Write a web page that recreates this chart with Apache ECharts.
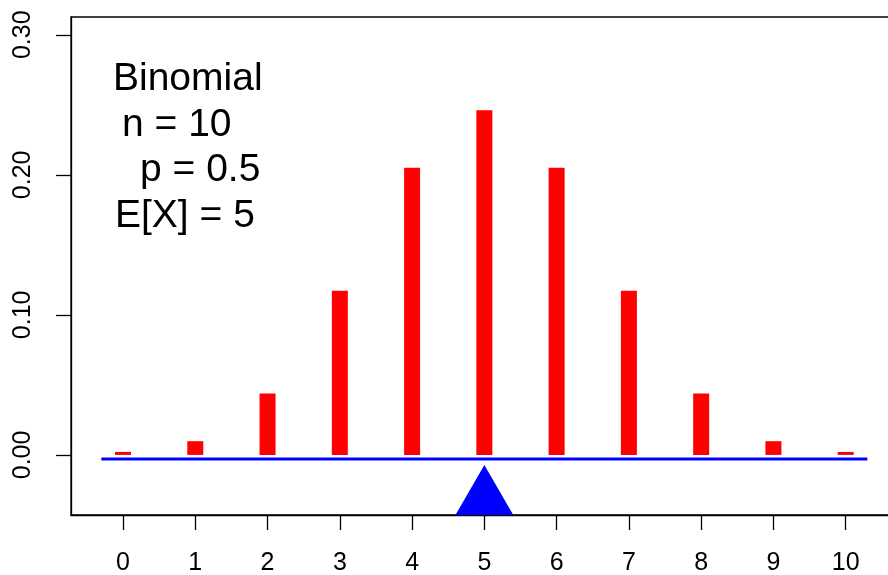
<!DOCTYPE html>
<html>
<head>
<meta charset="utf-8">
<script src="https://cdn.jsdelivr.net/npm/echarts@6/dist/echarts.min.js"></script>
<style>
html, body { margin: 0; padding: 0; background: #fff; }
#chart { width: 888px; height: 575px; }
</style>
</head>
<body>
<div id="chart"></div>
<script>
// binomial n = 10, p = 0.5
var successes = [0, 1, 2, 3, 4, 5, 6, 7, 8, 9, 10];
var probs = [0.001, 0.0098, 0.0439, 0.1172, 0.2051, 0.2461, 0.2051, 0.1172, 0.0439, 0.0098, 0.001];
var xTicks = [0, 1, 2, 3, 4, 5, 6, 7, 8, 9, 10];
var yTicks = [0, 0.1, 0.2, 0.3];
// balance beam and fulcrum under the mean
var beamX = [-0.3, 10.3];
var beamY = [-0.0029, -0.0029];
var fulcrumX = [4.6, 5, 5.4];
var fulcrumY = [-0.0429, -0.0072, -0.0429];
var notes = ['Binomial', 'n = 10', 'p = 0.5', 'E[X] = 5'];

var font = '"Liberation Sans", Arial, Helvetica, sans-serif';
var noteLeft = [113, 122, 140, 115];
var noteMid = [80, 126, 171, 217];

var myChart = echarts.init(document.getElementById('chart'));
var axisLine = { show: true, onZero: false, lineStyle: { color: '#000', width: 1.3 } };

var option = {
    animation: false,
    backgroundColor: '#fff',
    grid: {
        left: 71, right: -3, top: 17, bottom: 60,
        outerBoundsMode: 'none',
        show: true, borderColor: '#000', borderWidth: 1.3
    },
    xAxis: {
        type: 'value',
        min: -0.72,
        max: 10.627,
        axisLine: axisLine,
        splitLine: { show: false },
        axisTick: { customValues: xTicks, length: 15, lineStyle: { color: '#000', width: 1.3 } },
        axisLabel: {
            customValues: xTicks, fontSize: 25, margin: 36,
            color: '#000', fontFamily: font
        }
    },
    yAxis: {
        type: 'value',
        min: -0.0429,
        max: 0.3127,
        axisLine: axisLine,
        splitLine: { show: false },
        axisTick: { customValues: yTicks, length: 15, lineStyle: { color: '#000', width: 1.3 } },
        axisLabel: {
            customValues: yTicks, fontSize: 25, margin: 35, rotate: 90,
            color: '#000', fontFamily: font,
            formatter: function (v) { return v.toFixed(2); }
        }
    },
    graphic: notes.map(function (t, i) {
        return {
            type: 'text',
            left: noteLeft[i],
            top: noteMid[i] - 20,
            style: { text: t, fontSize: 39, fontFamily: font, fill: '#000' }
        };
    }),
    series: [
        {
            type: 'bar',
            data: successes.map(function (x, i) { return [x, probs[i]]; }),
            barWidth: 16,
            barMinHeight: 3,
            itemStyle: { color: '#ff0000' }
        },
        {
            type: 'line',
            data: beamX.map(function (x, i) { return [x, beamY[i]]; }),
            showSymbol: false,
            lineStyle: { color: '#0000ff', width: 3 }
        },
        {
            type: 'custom',
            data: [[fulcrumX[1], fulcrumY[1]]],
            renderItem: function (params, api) {
                var pts = fulcrumX.map(function (x, i) { return api.coord([x, fulcrumY[i]]); });
                return { type: 'polygon', shape: { points: pts }, style: { fill: '#0000ff' } };
            }
        }
    ]
};
myChart.setOption(option);
</script>
</body>
</html>
